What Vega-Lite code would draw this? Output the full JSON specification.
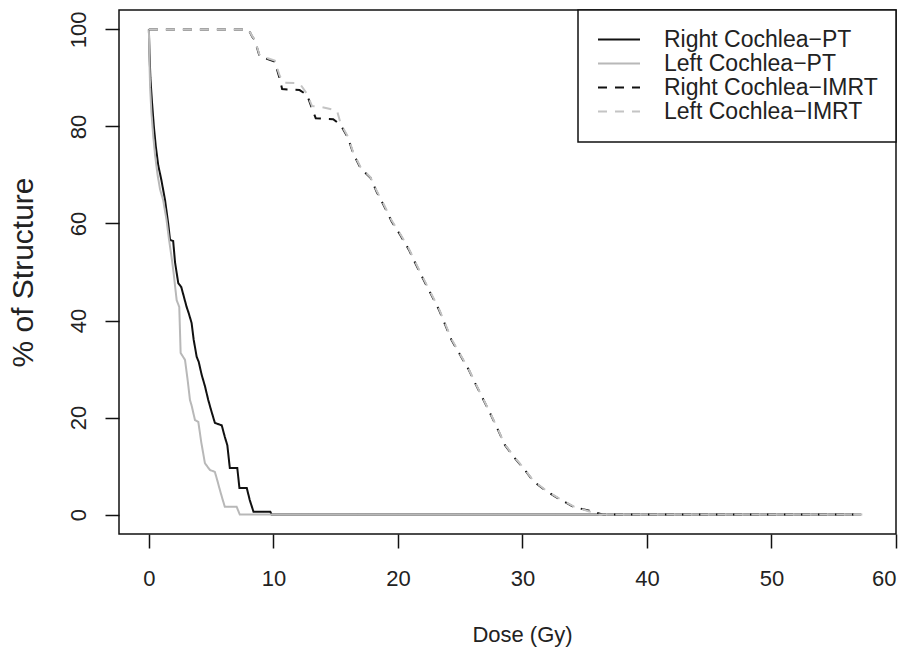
{
  "$schema": "https://vega.github.io/schema/vega-lite/v6.json",
  "width": 777,
  "height": 524,
  "autosize": {"type": "none"},
  "padding": {"left": 119, "top": 10, "right": 18, "bottom": 116},
  "background": "white",
  "config": {
    "font": "Liberation Sans",
    "view": {"stroke": "#111111", "strokeWidth": 1.5},
    "axis": {
      "domain": false,
      "grid": false,
      "tickColor": "#111111",
      "tickWidth": 1.5,
      "tickSize": 14,
      "labelFontSize": 22,
      "labelColor": "#222222",
      "labelFont": "Liberation Sans",
      "titleFontSize": 22,
      "titleFontWeight": "normal",
      "titleColor": "#222222",
      "titleFont": "Liberation Sans"
    },
    "legend": {
      "orient": "top-right",
      "offset": 0,
      "padding": 18,
      "strokeColor": "#111111",
      "fillColor": "white",
      "cornerRadius": 0,
      "labelFontSize": 23,
      "labelFont": "Liberation Sans",
      "labelColor": "#222222",
      "labelOffset": 33.5,
      "symbolOffset": 11.5,
      "symbolType": "M-3,0H3",
      "symbolSize": 196,
      "symbolStrokeWidth": 2,
      "rowPadding": 0,
      "labelLimit": 400
    }
  },
  "data": {
    "values": [
      {"series": "Right Cochlea−PT", "dose": 0, "pct": 100},
      {"series": "Right Cochlea−PT", "dose": 0.05, "pct": 95},
      {"series": "Right Cochlea−PT", "dose": 0.12, "pct": 90},
      {"series": "Right Cochlea−PT", "dose": 0.25, "pct": 85},
      {"series": "Right Cochlea−PT", "dose": 0.4, "pct": 80},
      {"series": "Right Cochlea−PT", "dose": 0.55, "pct": 76},
      {"series": "Right Cochlea−PT", "dose": 0.75, "pct": 72},
      {"series": "Right Cochlea−PT", "dose": 1.0, "pct": 69},
      {"series": "Right Cochlea−PT", "dose": 1.3, "pct": 64.8},
      {"series": "Right Cochlea−PT", "dose": 1.55, "pct": 60},
      {"series": "Right Cochlea−PT", "dose": 1.7, "pct": 56.6},
      {"series": "Right Cochlea−PT", "dose": 1.95, "pct": 56.4},
      {"series": "Right Cochlea−PT", "dose": 2.1, "pct": 52},
      {"series": "Right Cochlea−PT", "dose": 2.36, "pct": 47.7},
      {"series": "Right Cochlea−PT", "dose": 2.6, "pct": 46.9},
      {"series": "Right Cochlea−PT", "dose": 2.8, "pct": 45},
      {"series": "Right Cochlea−PT", "dose": 3.03, "pct": 42.8},
      {"series": "Right Cochlea−PT", "dose": 3.2, "pct": 41.5},
      {"series": "Right Cochlea−PT", "dose": 3.43, "pct": 39.5},
      {"series": "Right Cochlea−PT", "dose": 3.6, "pct": 36},
      {"series": "Right Cochlea−PT", "dose": 3.84, "pct": 32.5},
      {"series": "Right Cochlea−PT", "dose": 4.0, "pct": 31.5},
      {"series": "Right Cochlea−PT", "dose": 4.24, "pct": 28.8},
      {"series": "Right Cochlea−PT", "dose": 4.5, "pct": 26.5},
      {"series": "Right Cochlea−PT", "dose": 4.77, "pct": 23.6},
      {"series": "Right Cochlea−PT", "dose": 5.0, "pct": 21.5},
      {"series": "Right Cochlea−PT", "dose": 5.3, "pct": 18.9},
      {"series": "Right Cochlea−PT", "dose": 5.85, "pct": 18.4},
      {"series": "Right Cochlea−PT", "dose": 6.1, "pct": 16},
      {"series": "Right Cochlea−PT", "dose": 6.3, "pct": 14.3},
      {"series": "Right Cochlea−PT", "dose": 6.5, "pct": 9.6},
      {"series": "Right Cochlea−PT", "dose": 7.1, "pct": 9.6},
      {"series": "Right Cochlea−PT", "dose": 7.27, "pct": 5.5},
      {"series": "Right Cochlea−PT", "dose": 7.86, "pct": 5.5},
      {"series": "Right Cochlea−PT", "dose": 8.1, "pct": 3},
      {"series": "Right Cochlea−PT", "dose": 8.4, "pct": 0.6},
      {"series": "Right Cochlea−PT", "dose": 9.75, "pct": 0.6},
      {"series": "Right Cochlea−PT", "dose": 9.85, "pct": 0},
      {"series": "Right Cochlea−PT", "dose": 57.2, "pct": 0},

      {"series": "Left Cochlea−PT", "dose": 0, "pct": 100},
      {"series": "Left Cochlea−PT", "dose": 0.04, "pct": 94},
      {"series": "Left Cochlea−PT", "dose": 0.1, "pct": 88},
      {"series": "Left Cochlea−PT", "dose": 0.2, "pct": 83},
      {"series": "Left Cochlea−PT", "dose": 0.35, "pct": 78},
      {"series": "Left Cochlea−PT", "dose": 0.5, "pct": 74},
      {"series": "Left Cochlea−PT", "dose": 0.7, "pct": 70},
      {"series": "Left Cochlea−PT", "dose": 0.9, "pct": 67},
      {"series": "Left Cochlea−PT", "dose": 1.15, "pct": 64.8},
      {"series": "Left Cochlea−PT", "dose": 1.42, "pct": 60.7},
      {"series": "Left Cochlea−PT", "dose": 1.6, "pct": 57},
      {"series": "Left Cochlea−PT", "dose": 1.82, "pct": 53.1},
      {"series": "Left Cochlea−PT", "dose": 2.0, "pct": 49.5},
      {"series": "Left Cochlea−PT", "dose": 2.23, "pct": 44.2},
      {"series": "Left Cochlea−PT", "dose": 2.44, "pct": 42.8},
      {"series": "Left Cochlea−PT", "dose": 2.55, "pct": 33.3},
      {"series": "Left Cochlea−PT", "dose": 2.9, "pct": 31.9},
      {"series": "Left Cochlea−PT", "dose": 3.1, "pct": 28},
      {"series": "Left Cochlea−PT", "dose": 3.3, "pct": 23.6},
      {"series": "Left Cochlea−PT", "dose": 3.43, "pct": 22.5},
      {"series": "Left Cochlea−PT", "dose": 3.7, "pct": 19.5},
      {"series": "Left Cochlea−PT", "dose": 3.97, "pct": 19.1},
      {"series": "Left Cochlea−PT", "dose": 4.2, "pct": 15},
      {"series": "Left Cochlea−PT", "dose": 4.5, "pct": 10.6},
      {"series": "Left Cochlea−PT", "dose": 4.9, "pct": 9.2},
      {"series": "Left Cochlea−PT", "dose": 5.3, "pct": 8.8},
      {"series": "Left Cochlea−PT", "dose": 5.5, "pct": 7},
      {"series": "Left Cochlea−PT", "dose": 5.7, "pct": 5.1},
      {"series": "Left Cochlea−PT", "dose": 5.9, "pct": 3.3},
      {"series": "Left Cochlea−PT", "dose": 6.1, "pct": 1.6},
      {"series": "Left Cochlea−PT", "dose": 7.05, "pct": 1.6},
      {"series": "Left Cochlea−PT", "dose": 7.3, "pct": 0},
      {"series": "Left Cochlea−PT", "dose": 57.2, "pct": 0},

      {"series": "Right Cochlea−IMRT", "dose": 0, "pct": 100},
      {"series": "Right Cochlea−IMRT", "dose": 8.0, "pct": 100},
      {"series": "Right Cochlea−IMRT", "dose": 8.3, "pct": 98.5},
      {"series": "Right Cochlea−IMRT", "dose": 8.5, "pct": 97.8},
      {"series": "Right Cochlea−IMRT", "dose": 8.9, "pct": 94.4},
      {"series": "Right Cochlea−IMRT", "dose": 10.1, "pct": 93.4},
      {"series": "Right Cochlea−IMRT", "dose": 10.5, "pct": 89.9},
      {"series": "Right Cochlea−IMRT", "dose": 10.7, "pct": 87.7},
      {"series": "Right Cochlea−IMRT", "dose": 12.1, "pct": 87.5},
      {"series": "Right Cochlea−IMRT", "dose": 12.7, "pct": 86.5},
      {"series": "Right Cochlea−IMRT", "dose": 13.2, "pct": 83.0},
      {"series": "Right Cochlea−IMRT", "dose": 13.4, "pct": 81.7},
      {"series": "Right Cochlea−IMRT", "dose": 14.8, "pct": 81.5},
      {"series": "Right Cochlea−IMRT", "dose": 15.4, "pct": 80.3},
      {"series": "Right Cochlea−IMRT", "dose": 16.0, "pct": 77.6},
      {"series": "Right Cochlea−IMRT", "dose": 16.4, "pct": 74.5},
      {"series": "Right Cochlea−IMRT", "dose": 17.0, "pct": 71.4},
      {"series": "Right Cochlea−IMRT", "dose": 17.8, "pct": 69.4},
      {"series": "Right Cochlea−IMRT", "dose": 18.3, "pct": 66.5},
      {"series": "Right Cochlea−IMRT", "dose": 18.85, "pct": 63.8},
      {"series": "Right Cochlea−IMRT", "dose": 19.5, "pct": 60.4},
      {"series": "Right Cochlea−IMRT", "dose": 20.2, "pct": 57.6},
      {"series": "Right Cochlea−IMRT", "dose": 20.9, "pct": 54.5},
      {"series": "Right Cochlea−IMRT", "dose": 21.4, "pct": 51.8},
      {"series": "Right Cochlea−IMRT", "dose": 22.0, "pct": 48.7},
      {"series": "Right Cochlea−IMRT", "dose": 22.6, "pct": 45.7},
      {"series": "Right Cochlea−IMRT", "dose": 23.3, "pct": 42.2},
      {"series": "Right Cochlea−IMRT", "dose": 23.8, "pct": 39.1},
      {"series": "Right Cochlea−IMRT", "dose": 24.3, "pct": 36.0},
      {"series": "Right Cochlea−IMRT", "dose": 25.0, "pct": 32.9},
      {"series": "Right Cochlea−IMRT", "dose": 25.7, "pct": 29.8},
      {"series": "Right Cochlea−IMRT", "dose": 26.2, "pct": 27.1},
      {"series": "Right Cochlea−IMRT", "dose": 26.8, "pct": 24.0},
      {"series": "Right Cochlea−IMRT", "dose": 27.4, "pct": 20.9},
      {"series": "Right Cochlea−IMRT", "dose": 28.1, "pct": 17.1},
      {"series": "Right Cochlea−IMRT", "dose": 28.6, "pct": 14.3},
      {"series": "Right Cochlea−IMRT", "dose": 29.4, "pct": 11.6},
      {"series": "Right Cochlea−IMRT", "dose": 30.1, "pct": 9.5},
      {"series": "Right Cochlea−IMRT", "dose": 30.9, "pct": 6.8},
      {"series": "Right Cochlea−IMRT", "dose": 32.0, "pct": 4.7},
      {"series": "Right Cochlea−IMRT", "dose": 32.9, "pct": 3.3},
      {"series": "Right Cochlea−IMRT", "dose": 34.1, "pct": 1.6},
      {"series": "Right Cochlea−IMRT", "dose": 35.5, "pct": 0.7},
      {"series": "Right Cochlea−IMRT", "dose": 36.5, "pct": 0},
      {"series": "Right Cochlea−IMRT", "dose": 56.6, "pct": 0},

      {"series": "Left Cochlea−IMRT", "dose": 0, "pct": 100},
      {"series": "Left Cochlea−IMRT", "dose": 8.0, "pct": 100},
      {"series": "Left Cochlea−IMRT", "dose": 8.3, "pct": 98.6},
      {"series": "Left Cochlea−IMRT", "dose": 8.5, "pct": 97.9},
      {"series": "Left Cochlea−IMRT", "dose": 8.9, "pct": 94.6},
      {"series": "Left Cochlea−IMRT", "dose": 10.1, "pct": 93.6},
      {"series": "Left Cochlea−IMRT", "dose": 10.5, "pct": 90.5},
      {"series": "Left Cochlea−IMRT", "dose": 10.8, "pct": 89.0},
      {"series": "Left Cochlea−IMRT", "dose": 12.1, "pct": 88.9},
      {"series": "Left Cochlea−IMRT", "dose": 12.7, "pct": 86.7},
      {"series": "Left Cochlea−IMRT", "dose": 13.1, "pct": 84.2},
      {"series": "Left Cochlea−IMRT", "dose": 13.7, "pct": 84.1},
      {"series": "Left Cochlea−IMRT", "dose": 15.1, "pct": 83.3},
      {"series": "Left Cochlea−IMRT", "dose": 15.4, "pct": 80.6},
      {"series": "Left Cochlea−IMRT", "dose": 16.0, "pct": 77.8},
      {"series": "Left Cochlea−IMRT", "dose": 16.4, "pct": 74.7},
      {"series": "Left Cochlea−IMRT", "dose": 17.0, "pct": 71.6},
      {"series": "Left Cochlea−IMRT", "dose": 17.8, "pct": 69.5},
      {"series": "Left Cochlea−IMRT", "dose": 18.3, "pct": 66.7},
      {"series": "Left Cochlea−IMRT", "dose": 18.85, "pct": 64.0},
      {"series": "Left Cochlea−IMRT", "dose": 19.5, "pct": 60.6},
      {"series": "Left Cochlea−IMRT", "dose": 20.2, "pct": 57.8},
      {"series": "Left Cochlea−IMRT", "dose": 20.9, "pct": 54.7},
      {"series": "Left Cochlea−IMRT", "dose": 21.4, "pct": 52.0},
      {"series": "Left Cochlea−IMRT", "dose": 22.0, "pct": 48.9},
      {"series": "Left Cochlea−IMRT", "dose": 22.6, "pct": 45.9},
      {"series": "Left Cochlea−IMRT", "dose": 23.3, "pct": 42.4},
      {"series": "Left Cochlea−IMRT", "dose": 23.8, "pct": 39.3},
      {"series": "Left Cochlea−IMRT", "dose": 24.3, "pct": 36.2},
      {"series": "Left Cochlea−IMRT", "dose": 25.0, "pct": 33.0},
      {"series": "Left Cochlea−IMRT", "dose": 25.7, "pct": 29.9},
      {"series": "Left Cochlea−IMRT", "dose": 26.2, "pct": 27.2},
      {"series": "Left Cochlea−IMRT", "dose": 26.8, "pct": 24.1},
      {"series": "Left Cochlea−IMRT", "dose": 27.4, "pct": 21.0},
      {"series": "Left Cochlea−IMRT", "dose": 28.1, "pct": 17.2},
      {"series": "Left Cochlea−IMRT", "dose": 28.6, "pct": 14.4},
      {"series": "Left Cochlea−IMRT", "dose": 29.4, "pct": 11.7},
      {"series": "Left Cochlea−IMRT", "dose": 30.1, "pct": 9.6},
      {"series": "Left Cochlea−IMRT", "dose": 30.9, "pct": 6.9},
      {"series": "Left Cochlea−IMRT", "dose": 32.0, "pct": 4.8},
      {"series": "Left Cochlea−IMRT", "dose": 32.9, "pct": 3.4},
      {"series": "Left Cochlea−IMRT", "dose": 34.1, "pct": 1.7},
      {"series": "Left Cochlea−IMRT", "dose": 35.3, "pct": 0.7},
      {"series": "Left Cochlea−IMRT", "dose": 36.2, "pct": 0},
      {"series": "Left Cochlea−IMRT", "dose": 57.3, "pct": 0}
    ]
  },
  "mark": {"type": "line", "strokeWidth": 2, "interpolate": "linear"},
  "encoding": {
    "x": {
      "field": "dose",
      "type": "quantitative",
      "scale": {"domain": [-2.4, 60], "nice": false, "zero": false},
      "axis": {
        "values": [0, 10, 20, 30, 40, 50, 60],
        "title": "Dose (Gy)",
        "labelPadding": 20,
        "labelBaseline": "top",
        "titleX": 403,
        "titleY": 100,
        "titleBaseline": "middle",
        "titleAnchor": "middle",
        "titleAlign": "center"
      }
    },
    "y": {
      "field": "pct",
      "type": "quantitative",
      "scale": {"domain": [-4, 104], "nice": false, "zero": false},
      "axis": {
        "values": [0, 20, 40, 60, 80, 100],
        "title": "% of Structure",
        "labelAngle": -90,
        "labelAlign": "center",
        "labelBaseline": "alphabetic",
        "labelPadding": 20,
        "titleAngle": -90,
        "titleFontSize": 30,
        "titleX": -87,
        "titleY": 262,
        "titleBaseline": "alphabetic",
        "titleAlign": "center"
      }
    },
    "color": {
      "field": "series",
      "type": "nominal",
      "title": null,
      "scale": {
        "domain": ["Right Cochlea−PT", "Left Cochlea−PT", "Right Cochlea−IMRT", "Left Cochlea−IMRT"],
        "range": ["#111111", "#b8b8b8", "#111111", "#c4c4c4"]
      },
      "legend": {"encode": {"legend": {"update": {"strokeWidth": {"value": 1.5}}}}}
    },
    "strokeDash": {
      "field": "series",
      "type": "nominal",
      "title": null,
      "scale": {
        "domain": ["Right Cochlea−PT", "Left Cochlea−PT", "Right Cochlea−IMRT", "Left Cochlea−IMRT"],
        "range": [[1, 0], [1, 0], [9, 8], [9, 8]]
      },
      "legend": {"encode": {"legend": {"update": {"strokeWidth": {"value": 1.5}}}}}
    }
  }
}
